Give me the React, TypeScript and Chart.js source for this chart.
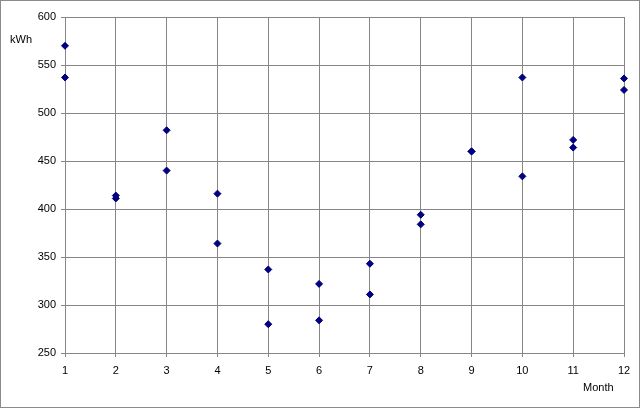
import React, { useEffect, useRef } from "react";
import { Chart, registerables } from "chart.js";

Chart.register(...registerables);

const months = [1, 2, 3, 4, 5, 6, 7, 8, 9, 10, 11, 12];
const seriesA = [570, 414, 482, 416, 337, 322, 343, 394, 460, 537, 472, 536];
const seriesB = [537, 411, 440, 364, 280, 284, 311, 384, 460, 434, 464, 524];
const yAxisLabel = "kWh";
const xAxisLabel = "Month";

const GRID = "#868686";
const MARK = "#000080";
const FONT = "Liberation Sans, Arial, sans-serif";

export default function App() {
  const ref = useRef<HTMLCanvasElement | null>(null);

  useEffect(() => {
    const canvas = ref.current;
    if (!canvas) return;
    const toPoints = (vals: number[]) => months.map((m, i) => ({ x: m, y: vals[i] }));

    const decor = {
      id: "decor",
      beforeDraw(chart: any) {
        const ctx = chart.ctx;
        ctx.save();
        ctx.fillStyle = "#ffffff";
        ctx.fillRect(0, 0, chart.width, chart.height);
        ctx.restore();
      },
      afterDraw(chart: any) {
        const ctx = chart.ctx;
        ctx.save();
        ctx.strokeStyle = "#8a8a8a";
        ctx.lineWidth = 1;
        ctx.strokeRect(0.5, 0.5, chart.width - 1, chart.height - 1);
        ctx.fillStyle = "#000000";
        ctx.font = "11px " + FONT;
        ctx.textBaseline = "middle";
        ctx.textAlign = "left";
        ctx.fillText(yAxisLabel, 10, 40);
        ctx.fillText(xAxisLabel, 583, 388);
        ctx.restore();
      },
    };

    const chart = new Chart(canvas, {
      type: "scatter",
      data: {
        datasets: [
          {
            label: "A",
            data: toPoints(seriesA),
            pointStyle: "rectRot",
            pointRadius: 3.5,
            borderWidth: 1,
            borderColor: MARK,
            backgroundColor: MARK,
            clip: false,
          } as any,
          {
            label: "B",
            data: toPoints(seriesB),
            pointStyle: "rectRot",
            pointRadius: 3.5,
            borderWidth: 1,
            borderColor: MARK,
            backgroundColor: MARK,
            clip: false,
          } as any,
        ],
      },
      options: {
        responsive: false,
        animation: false,
        devicePixelRatio: 1,
        layout: { padding: { left: 0, right: 16, top: 17, bottom: 0 } },
        plugins: {
          legend: { display: false },
          tooltip: { enabled: false },
        },
        scales: {
          x: {
            type: "linear",
            min: 1,
            max: 12,
            afterFit: (s: any) => {
              s.height = 55;
            },
            ticks: {
              stepSize: 1,
              color: "#000",
              font: { family: FONT, size: 11 },
              padding: 7,
              maxRotation: 0,
            },
            grid: { color: GRID, tickLength: 4, tickColor: GRID },
            border: { color: GRID },
          },
          y: {
            min: 250,
            max: 600,
            afterFit: (s: any) => {
              s.width = 65;
            },
            ticks: {
              stepSize: 50,
              color: "#000",
              font: { family: FONT, size: 11 },
              padding: 5,
            },
            grid: { color: GRID, tickLength: 4, tickColor: GRID },
            border: { color: GRID },
          },
        },
      },
      plugins: [decor],
    });
    return () => chart.destroy();
  }, []);

  return (
    <div style={{ position: "absolute", left: 0, top: 0, width: 640, height: 408 }}>
      <canvas ref={ref} width={640} height={408} style={{ display: "block" }} />
    </div>
  );
}
